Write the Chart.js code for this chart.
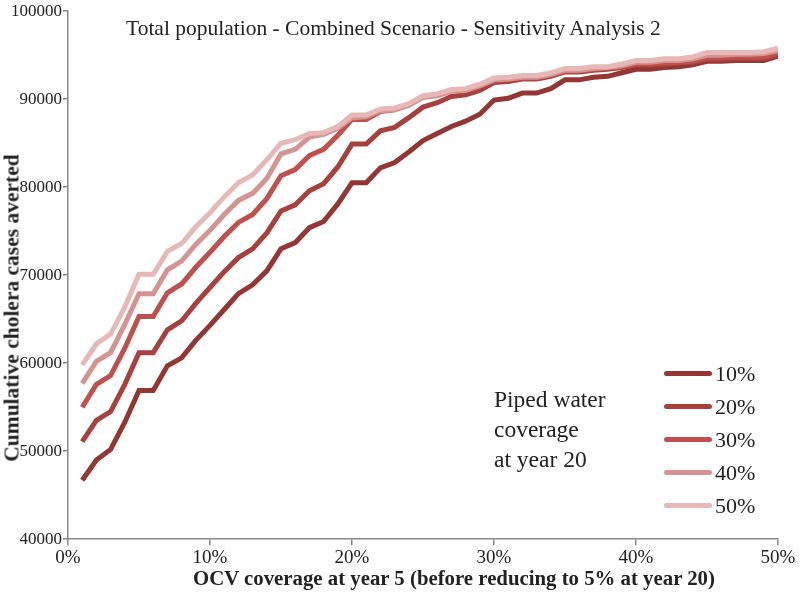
<!DOCTYPE html>
<html>
<head>
<meta charset="utf-8">
<script src="https://cdn.jsdelivr.net/npm/chart.js@4"></script>
<style>
  body { margin:0; background:#fff; }
  #wrap { position:relative; width:800px; height:601px; }
  .txt { position:absolute; font-family:"Liberation Serif", serif; color:#222; white-space:nowrap; }
  #title { left:126px; top:16px; font-size:21.5px; }
  #note { left:494px; top:384px; font-size:23.5px; line-height:30px; }
  #xtitle { left:193px; top:566px; font-size:20.8px; font-weight:bold; }
  #ytitle { left:12px; top:308px; font-size:21.5px; font-weight:bold; transform:translate(-50%,-50%) rotate(-90deg); }
  #legend { position:absolute; left:664px; top:357px; }
  .leg { height:33px; display:flex; align-items:center; font-family:"Liberation Serif", serif; font-size:22px; color:#222; }
  .leg span.ln { display:inline-block; width:48px; height:5px; border-radius:3px; margin-right:3px; }
</style>
</head>
<body>
<div id="wrap">
  <canvas id="myChart" width="800" height="601"></canvas>
  <div id="title" class="txt">Total population - Combined Scenario - Sensitivity Analysis 2</div>
  <div id="note" class="txt">Piped water<br>coverage<br>at year 20</div>
  <div id="xtitle" class="txt">OCV coverage at year 5 (before reducing to 5% at year 20)</div>
  <div id="ytitle" class="txt">Cumulative cholera cases averted</div>
  <div id="legend"></div>
</div>
<script>
let ocv = [1,2,3,4,5,6,7,8,9,10,11,12,13,14,15,16,17,18,19,20,21,22,23,24,25,26,27,28,29,30,31,32,33,34,35,36,37,38,39,40,41,42,43,44,45,46,47,48,49,50]

let piped10 = [46700,49000,50200,53300,56900,56900,59700,60600,62600,64300,66100,67900,68900,70500,73000,73700,75400,76100,78100,80500,80500,82200,82800,84000,85300,86100,86900,87500,88300,89900,90100,90700,90700,91200,92200,92200,92500,92600,93000,93400,93400,93600,93700,93900,94300,94300,94400,94400,94400,94900]
let piped20 = [51100,53500,54500,57600,61200,61200,63800,64800,66800,68600,70400,72000,73000,74800,77300,78000,79600,80400,82300,84900,84900,86400,86800,87900,89100,89600,90300,90500,91000,91900,92000,92300,92300,92600,93100,93100,93300,93400,93600,93900,93900,94000,94100,94200,94500,94500,94600,94600,94600,95000]
let piped30 = [55000,57600,58600,61700,65300,65300,68000,69000,70900,72600,74400,76000,76900,78700,81300,82000,83600,84300,85900,87700,87700,88600,88800,89400,90300,90500,91000,91100,91500,92100,92200,92400,92400,92700,93200,93200,93400,93500,93700,94000,94000,94100,94200,94300,94700,94700,94800,94800,94800,95200]
let piped40 = [57700,60200,61200,64400,67900,67900,70600,71600,73500,75100,76900,78500,79300,81000,83800,84300,85700,86000,86700,87900,88000,88700,88800,89300,90200,90400,90900,91000,91500,92200,92300,92500,92500,92800,93300,93300,93500,93600,93800,94200,94200,94400,94400,94600,95000,95000,95100,95100,95200,95500]
let piped50 = [59800,62200,63300,66400,70100,70100,72700,73600,75500,77100,78900,80500,81400,83100,85000,85400,86100,86200,86900,88200,88200,88900,89000,89500,90400,90600,91100,91200,91700,92400,92500,92700,92700,93000,93500,93500,93700,93700,94000,94400,94400,94600,94600,94800,95300,95300,95300,95300,95400,95800]

let seriesNames = ["10%","20%","30%","40%","50%"]
let seriesColors = ["#943634","#A8403D","#C0504D","#D59391","#E6B9B8"]
let allSeries = [piped10,piped20,piped30,piped40,piped50]

let serif = "'Liberation Serif', serif"

let datasets = allSeries.map((s,i)=>({
    label: seriesNames[i],
    data: s.map((v,k)=>({x: ocv[k], y: v})),
    borderColor: seriesColors[i],
    backgroundColor: seriesColors[i],
    borderWidth: 5,
    pointRadius: 0,
    tension: 0,
    order: 5-i
}))

let chart = new Chart(document.getElementById("myChart"), {
    type: 'line',
    data: { datasets: datasets },
    options: {
        responsive: false,
        animation: false,
        layout: { padding: { left: 0, right: 22, top: -12, bottom: 31 } },
        plugins: { legend: { display: false }, tooltip: { enabled: false } },
        scales: {
            x: {
                type: 'linear',
                min: 0, max: 50,
                ticks: { stepSize: 10, color:'#222', font:{ family: serif, size: 19 }, callback: v => v + '%', padding: 1 },
                grid: { drawOnChartArea: false, drawTicks: true, tickLength: 6, color:'#888', lineWidth: 1.5 },
                border: { color:'#888', width: 1.5 }
            },
            y: {
                min: 40000, max: 100000,
                afterFit: s => { s.width = 68 },
                ticks: { stepSize: 10000, color:'#222', font:{ family: serif, size: 17 }, padding: 1, callback: v => String(v) },
                grid: { drawOnChartArea: false, drawTicks: true, tickLength: 5, color:'#888', lineWidth: 1.5 },
                border: { color:'#888', width: 1.5 }
            }
        }
    }
})

// legend built from the datasets
let legendBox = document.getElementById("legend")
seriesNames.forEach((n,i)=>{
    legendBox.innerHTML += `<div class="leg"><span class="ln" style="background:${seriesColors[i]}"></span>${n}</div>`
})
</script>
</body>
</html>
